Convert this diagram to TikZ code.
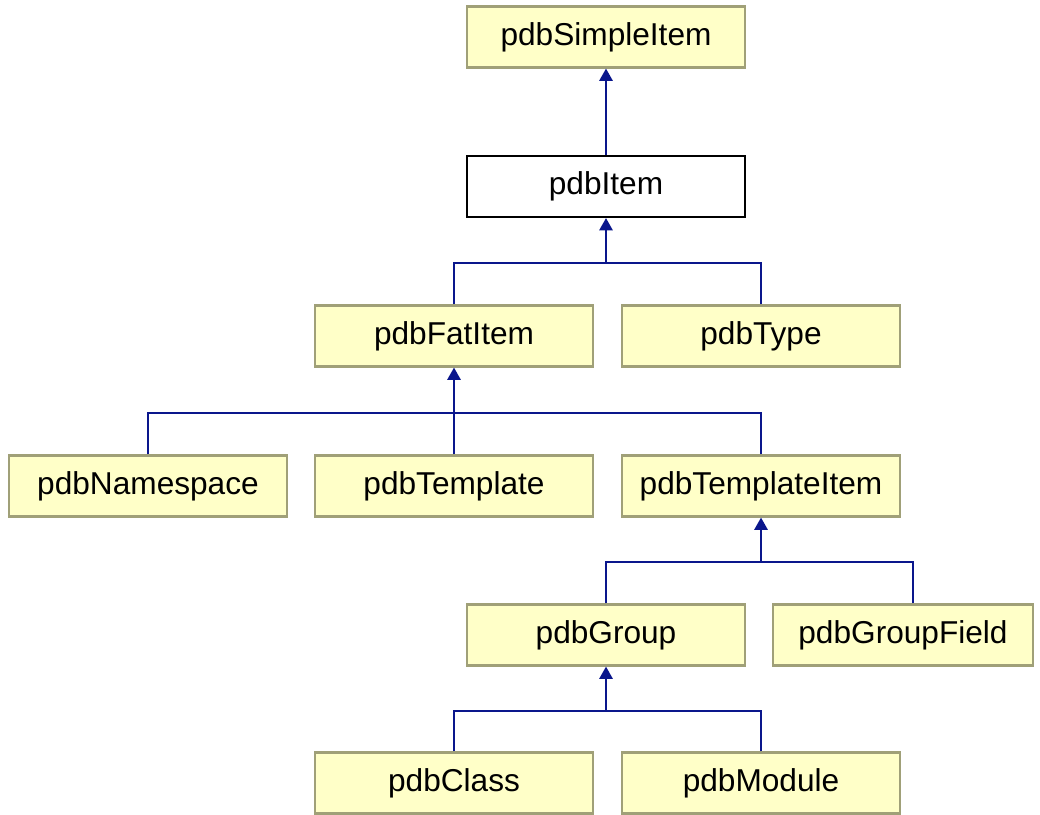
\documentclass[tikz,border=0pt]{standalone}
\usepackage{fontspec}
\setmainfont{Liberation Sans}
\usetikzlibrary{arrows.meta,positioning,calc}

\definecolor{boxfill}{RGB}{255,255,200}
\definecolor{boxedge}{RGB}{160,160,120}
\definecolor{linkblue}{RGB}{10,22,140}

\begin{document}
\begin{tikzpicture}[x=0.02cm, y=-0.02cm,
    cls/.style={draw=boxedge, fill=boxfill, line width=1.2pt, minimum width=5.56cm, minimum height=1.22cm, inner sep=0pt, font=\fontsize{18}{21}\selectfont},
    base/.style={cls, draw=black, fill=white},
    link/.style={draw=linkblue, line width=1.3pt},
    inherit/.style={link, -{Triangle[width=7.5pt,length=7pt]}}]
    \useasboundingbox (0,0) rectangle (1040,814);

    % Classes
    \node[cls] (simple) at (606,37) {pdbSimpleItem};
    \node[base] (item) at (606,186.5) {pdbItem};
    \node[cls] (fat) at (454,336) {pdbFatItem};
    \node[cls] (type) at (761,336) {pdbType};
    \node[cls] (ns) at (148,486) {pdbNamespace};
    \node[cls] (tmpl) at (454,486) {pdbTemplate};
    \node[cls] (tmplitem) at (761,486) {pdbTemplateItem};
    \node[cls] (group) at (606,635) {pdbGroup};
    \node[cls, minimum width=5.2cm] (gfield) at (903,635) {pdbGroupField};
    \node[cls] (class) at (454,783) {pdbClass};
    \node[cls] (module) at (761,783) {pdbModule};

    % Bus junctions
    \coordinate (j1) at (606,263);
    \coordinate (j2) at (454,413);
    \coordinate (j3) at (761,562);
    \coordinate (j4) at (606,711);

    % pdbSimpleItem <- pdbItem
    \draw[inherit] (item.north) -- (simple.south);

    % pdbItem
    \draw[link] (fat.north) |- (j1);
    \draw[link] (type.north) |- (j1);
    \draw[inherit] (j1) -- (item.south);

    % pdbFatItem
    \draw[link] (ns.north) |- (j2);
    \draw[link] (tmplitem.north) |- (j2);
    \draw[inherit] (tmpl.north) -- (fat.south);

    % pdbTemplateItem
    \draw[link] (group.north) |- (j3);
    \draw[link] ($(gfield.north)+(10,0)$) |- (j3);
    \draw[inherit] (j3) -- (tmplitem.south);

    % pdbGroup
    \draw[link] (class.north) |- (j4);
    \draw[link] (module.north) |- (j4);
    \draw[inherit] (j4) -- (group.south);
\end{tikzpicture}
\end{document}
